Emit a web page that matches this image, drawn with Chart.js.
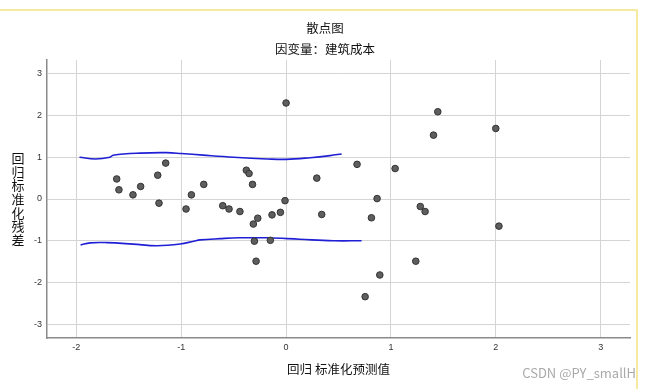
<!DOCTYPE html>
<html>
<head>
<meta charset="utf-8">
<script src="https://cdn.jsdelivr.net/npm/chart.js@4/dist/chart.umd.min.js"></script>
<style>
  html, body { margin: 0; padding: 0; background: #fff; }
  #wrap { position: relative; width: 650px; height: 389px; }
  #frame { position: absolute; left: -3px; top: 9px; width: 641px; height: 392px; border: 2px solid #f6eaa0; box-sizing: border-box; }
  #mark { position: absolute; right: 14px; top: 363px; font: 13px "Noto Sans CJK SC", "Noto Sans", sans-serif; color: #a9a9a9; }
</style>
</head>
<body>
<div id="wrap">
  <div id="frame"></div>
  <canvas id="scatterChart" width="650" height="389"></canvas>
  <div id="mark">CSDN @PY_smallH</div>
</div>
<script>
// standardized predicted values (x) and standardized residuals (y)
const predicted = [-1.615, -1.594, -1.46, -1.387, -1.224, -1.148, -1.212, -0.954, -0.903, -0.785,
  -0.604, -0.544, -0.44, -0.379, -0.353, -0.32, -0.312, -0.27, -0.302, -0.286,
  -0.15, -0.134, -0.054, -0.01, 0.0, 0.293, 0.34, 0.677, 0.814, 0.868,
  0.754, 0.894, 1.04, 1.237, 1.28, 1.326, 1.406, 1.447, 2.0, 2.03];
const residuals = [0.48, 0.22, 0.10, 0.30, 0.57, 0.86, -0.10, -0.24, 0.10, 0.35,
  -0.16, -0.24, -0.30, 0.69, 0.61, 0.35, -0.60, -0.46, -1.01, -1.49,
  -0.99, -0.38, -0.32, -0.04, 2.30, 0.50, -0.37, 0.83, -0.45, 0.01,
  -2.34, -1.82, 0.73, -1.49, -0.18, -0.30, 1.53, 2.09, 1.69, -0.65];

// blue band curves
const upperX = [-1.97, -1.82, -1.68, -1.65, -1.39, -1.14, -1.0, -0.79, -0.5, -0.18, 0.0, 0.23, 0.42, 0.53];
const upperY = [1.0, 0.96, 1.0, 1.05, 1.10, 1.11, 1.09, 1.05, 1.0, 0.96, 0.95, 0.99, 1.04, 1.08];
const lowerX = [-1.96, -1.87, -1.71, -1.46, -1.23, -1.01, -0.88, -0.82, -0.63, -0.45, -0.18, 0.13, 0.45, 0.72];
const lowerY = [-1.10, -1.05, -1.045, -1.08, -1.12, -1.08, -1.01, -0.98, -0.95, -0.93, -0.93, -0.965, -1.0, -1.0];

const xTicks = [-2, -1, 0, 1, 2, 3];
const yTicks = [3, 2, 1, 0, -1, -2, -3];

const chartTitle = '散点图';
const chartSubtitle = '因变量：建筑成本';
const xTitle = '回归 标准化预测值';
const yTitle = '回归标准化残差';

const cjkFont = '"Noto Sans CJK SC", sans-serif';

function toPoints(xs, ys) {
    return xs.map((x, i) => ({ x: x, y: ys[i] }));
}

// draws the two titles, the stacked vertical y title and the x title
const textPlugin = {
    id: 'textPlugin',
    afterDraw(chart) {
        const ctx = chart.ctx;
        const area = chart.chartArea;
        ctx.save();
        ctx.fillStyle = '#111';
        ctx.textAlign = 'center';
        ctx.textBaseline = 'middle';
        ctx.font = '12.5px ' + cjkFont;
        ctx.fillText(chartTitle, 325, 28);
        ctx.fillText(chartSubtitle, 325, 49);
        ctx.fillText(xTitle, (area.left + area.right) / 2, 369);
        ctx.font = '13px ' + cjkFont;
        const chars = Array.from(yTitle);
        const step = 13.7;
        const startY = 158;
        chars.forEach((c, i) => ctx.fillText(c, 18, startY + i * step));
        ctx.restore();
    }
};

const gridColor = '#d4d4d4';
const axisColor = '#8a8a8a';
const tickFont = { family: 'Liberation Sans, Arial, sans-serif', size: 9 };

new Chart(document.getElementById('scatterChart'), {
    type: 'scatter',
    data: {
        datasets: [
            {
                label: 'points',
                data: toPoints(predicted, residuals),
                backgroundColor: '#5e5e5e',
                borderColor: '#333333',
                borderWidth: 1,
                pointRadius: 3.3
            },
            {
                label: 'upper',
                data: toPoints(upperX, upperY),
                showLine: true,
                borderColor: '#1f1fd6',
                borderWidth: 1.6,
                pointRadius: 0,
                tension: 0.4
            },
            {
                label: 'lower',
                data: toPoints(lowerX, lowerY),
                showLine: true,
                borderColor: '#1f1fd6',
                borderWidth: 1.6,
                pointRadius: 0,
                tension: 0.4
            }
        ]
    },
    options: {
        responsive: false,
        animation: false,
        layout: { padding: { top: 60, right: 20, left: 0, bottom: 0 } },
        plugins: {
            legend: { display: false },
            tooltip: { enabled: false }
        },
        scales: {
            x: {
                type: 'linear',
                min: -2.28,
                max: 3.28,
                afterBuildTicks: (scale) => { scale.ticks = xTicks.map(v => ({ value: v })); },
                afterFit: (scale) => { scale.height = 51; },
                ticks: { font: tickFont, color: '#333', padding: 4 },
                grid: { color: gridColor, drawTicks: false },
                border: { color: axisColor, width: 1.5 }
            },
            y: {
                type: 'linear',
                min: -3.33,
                max: 3.33,
                afterBuildTicks: (scale) => { scale.ticks = yTicks.map(v => ({ value: v })); },
                afterFit: (scale) => { scale.width = 47; },
                ticks: { font: tickFont, color: '#333', padding: 5 },
                grid: { color: gridColor, drawTicks: false },
                border: { color: axisColor, width: 1.5 }
            }
        }
    },
    plugins: [textPlugin]
});
</script>
</body>
</html>
